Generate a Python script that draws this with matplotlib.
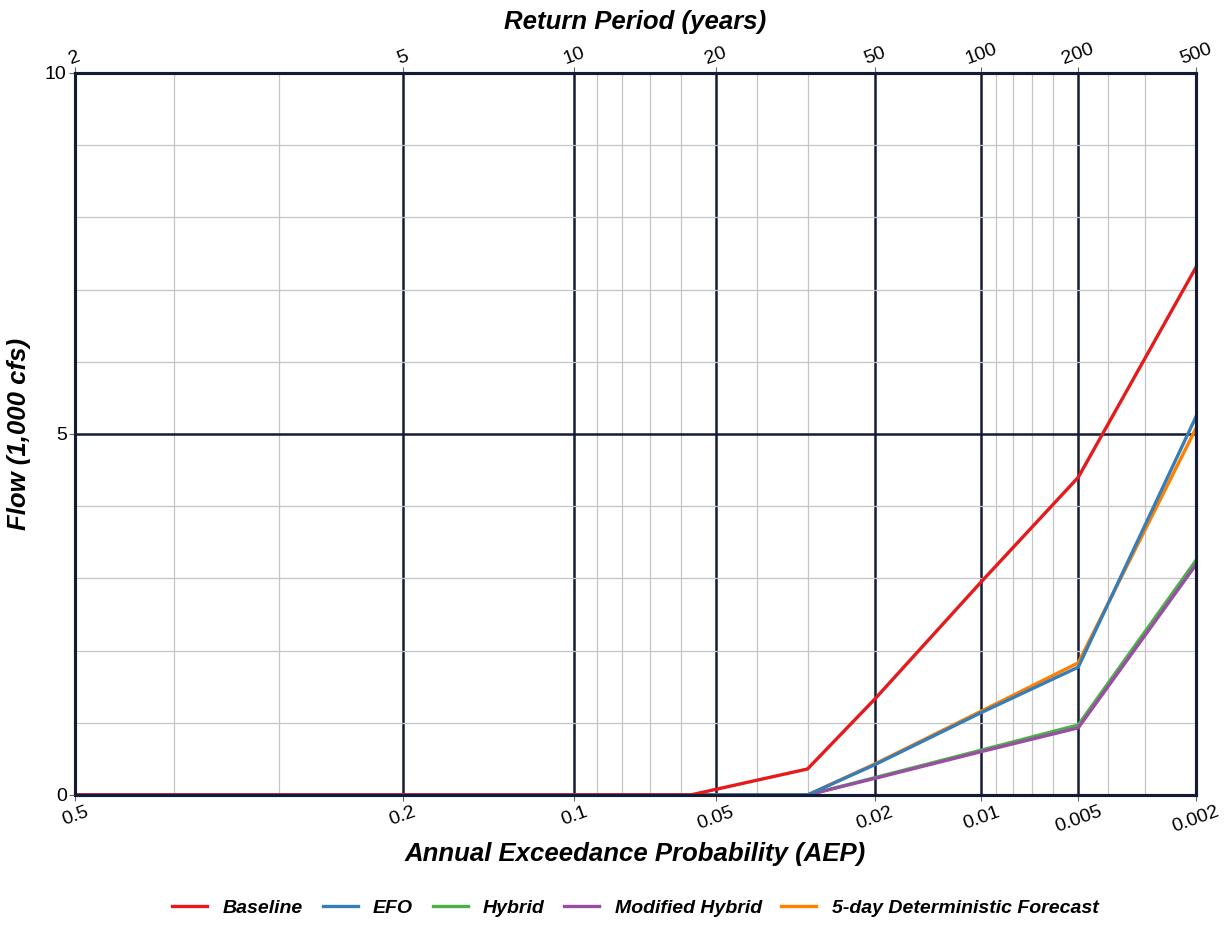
import numpy as np
import matplotlib
matplotlib.use('Agg')
import matplotlib.pyplot as plt
from statistics import NormalDist

plt.rcParams['font.family'] = ['Liberation Sans', 'DejaVu Sans']

# data (flow in 1,000 cfs)
aep = [0.5, 0.2, 0.1, 0.057, 0.03, 0.02, 0.01, 0.005, 0.002]
baseline = [0, 0, 0, 0, 0.36, 1.33, 2.95, 4.40, 7.31]
efo = [0, 0, 0, 0, 0, 0.42, 1.14, 1.77, 5.24]
hybrid = [0, 0, 0, 0, 0, 0.24, 0.62, 0.97, 3.25]
mod_hybrid = [0, 0, 0, 0, 0, 0.23, 0.60, 0.93, 3.19]
det_5day = [0, 0, 0, 0, 0, 0.43, 1.16, 1.83, 5.08]

aep_major = [0.5, 0.2, 0.1, 0.05, 0.02, 0.01, 0.005, 0.002]
aep_labels = ['0.5', '0.2', '0.1', '0.05', '0.02', '0.01', '0.005', '0.002']
aep_minor = [0.4, 0.3, 0.09, 0.08, 0.07, 0.06, 0.04, 0.03,
             0.009, 0.008, 0.007, 0.006, 0.004, 0.003]
return_periods = [2, 5, 10, 20, 50, 100, 200, 500]

_nd = NormalDist()


# normal probability scale (increasing with p, axis gets inverted by xlim)
def prob_fwd(p):
    p = np.clip(np.asarray(p, dtype=float), 1e-9, 1 - 1e-9)
    return np.vectorize(_nd.inv_cdf, otypes=[float])(p)


def prob_inv(z):
    z = np.clip(np.asarray(z, dtype=float), -8, 8)
    return np.vectorize(_nd.cdf, otypes=[float])(z)


dark = '#141b34'

fig = plt.figure(figsize=(12.31, 9.39), dpi=100)
ax = fig.add_axes([0.0609, 0.1534, 0.9107, 0.7689])
ax.set_xscale('function', functions=(prob_fwd, prob_inv))

ax.plot(aep, baseline, color='#e41a1c', lw=2.4, label='Baseline', zorder=2.2)
ax.plot(aep, efo, color='#377eb8', lw=2.4, label='EFO', zorder=2.15)
ax.plot(aep, hybrid, color='#4daf4a', lw=2.4, label='Hybrid', zorder=2.05)
ax.plot(aep, mod_hybrid, color='#984ea3', lw=2.4, label='Modified Hybrid', zorder=2.1)
ax.plot(aep, det_5day, color='#ff7f00', lw=2.4, label='5-day Deterministic Forecast', zorder=2.0)

ax.set_xlim(0.5, 0.002)
ax.set_ylim(0, 10)

ax.set_xticks(aep_major, aep_labels)
ax.set_xticks(aep_minor, minor=True)
ax.set_yticks([0, 5, 10])
ax.set_yticks(range(1, 10), minor=True)

ax.set_axisbelow(True)
ax.grid(which='major', color=dark, lw=1.8)
ax.grid(which='minor', color='#c4c4c4', lw=0.9)
ax.tick_params(which='minor', length=0)
ax.tick_params(which='major', length=4, color='#666666', labelsize=14, pad=2)
for lab in ax.get_xticklabels():
    lab.set_rotation(20)
for sp in ax.spines.values():
    sp.set_color(dark)
    sp.set_linewidth(2.2)

# return period axis on top
top = ax.twiny()
top.set_xscale('function', functions=(prob_fwd, prob_inv))
top.set_xlim(ax.get_xlim())
top.set_xticks([1 / t for t in return_periods], [str(t) for t in return_periods])
top.set_xticks([], minor=True)
top.tick_params(length=4, color='#666666', labelsize=14, pad=0)
for sp in top.spines.values():
    sp.set_color(dark)
    sp.set_linewidth(2.2)
for lab in top.get_xticklabels():
    lab.set_rotation(20)

font = dict(fontsize=18.5, fontweight='bold', fontstyle='italic')
top.set_xlabel('Return Period (years)', labelpad=8, **font)
ax.set_xlabel('Annual Exceedance Probability (AEP)', labelpad=4, **font)
ax.set_ylabel('Flow (1,000 cfs)', labelpad=10, **font)

ax.legend(loc='upper center', bbox_to_anchor=(0.5, -0.12), ncol=5, frameon=False,
          handlelength=1.8, columnspacing=1.0, handletextpad=0.8,
          prop=dict(size=14, weight='bold', style='italic'))

fig.savefig('out.png', dpi=100)
